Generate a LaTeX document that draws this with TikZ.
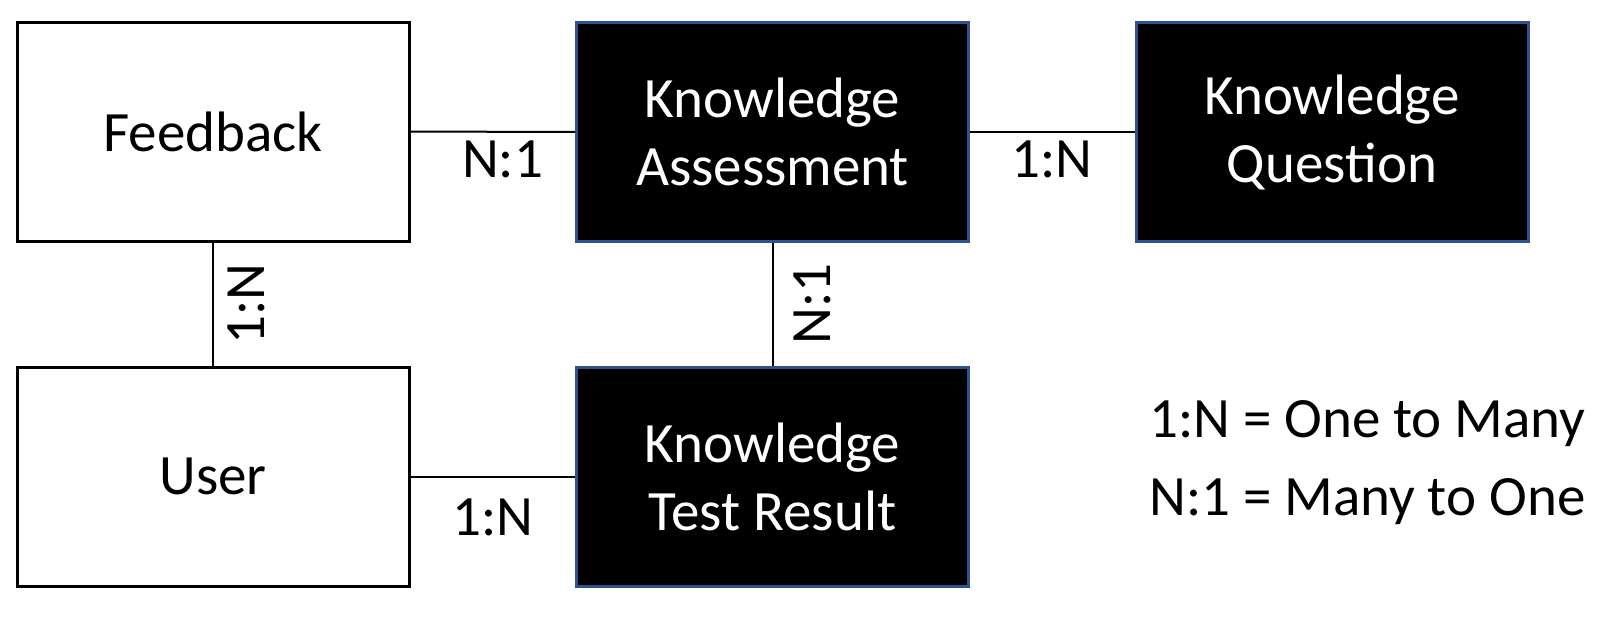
\documentclass[tikz,border=0pt]{standalone}
\usepackage{fontspec}
\setmainfont{Carlito}
\definecolor{boxblue}{RGB}{47,82,143}
\begin{document}
\begin{tikzpicture}[
            x=1pt, y=-1pt,
            every node/.style={font=\fontsize{57}{68}\selectfont},
            entity/.style={rectangle, draw=black, line width=3pt, minimum width=392pt, minimum height=219pt, align=center, fill=white},
            core/.style={entity, draw=boxblue, fill=black, text=white},
            link/.style={line width=2pt, color=black},
            card/.style={inner sep=0pt, anchor=north}
        ]
        \useasboundingbox (0,0) rectangle (1623,630);

        \node[entity] (feedback) at ( 213, 131.5) {Feedback};
        \node[core] (assess) at ( 772.5, 132) {Knowledge\\Assessment};
        \node[core] (question) at (1332, 132) {Knowledge\\Question};
        \node[entity] (user) at ( 213, 476.5) {User};
        \node[core] (result) at ( 772.5, 476.5) {Knowledge\\Test Result};

        \draw[link] (feedback) -- node[card, pos=.56, yshift=-8pt] {N:1} (assess);
        \draw[link] (assess) -- node[card, midway, yshift=-8pt] {1:N} (question);
        \draw[link] (feedback) -- node[card, midway, xshift=14pt, rotate=90] {1:N} (user);
        \draw[link] (assess) -- node[card, midway, xshift=20pt, rotate=90] {N:1} (result);
        \draw[link] (user) -- node[card, midway, yshift=-21pt] {1:N} (result);

        % legend
        \node[anchor=base west, inner sep=0pt] (legone) at (1149, 437) {1:N = One to Many};
        \node[anchor=base west, inner sep=0pt] (legtwo) at (1149, 515) {N:1 = Many to One};

    \end{tikzpicture}
\end{document}
